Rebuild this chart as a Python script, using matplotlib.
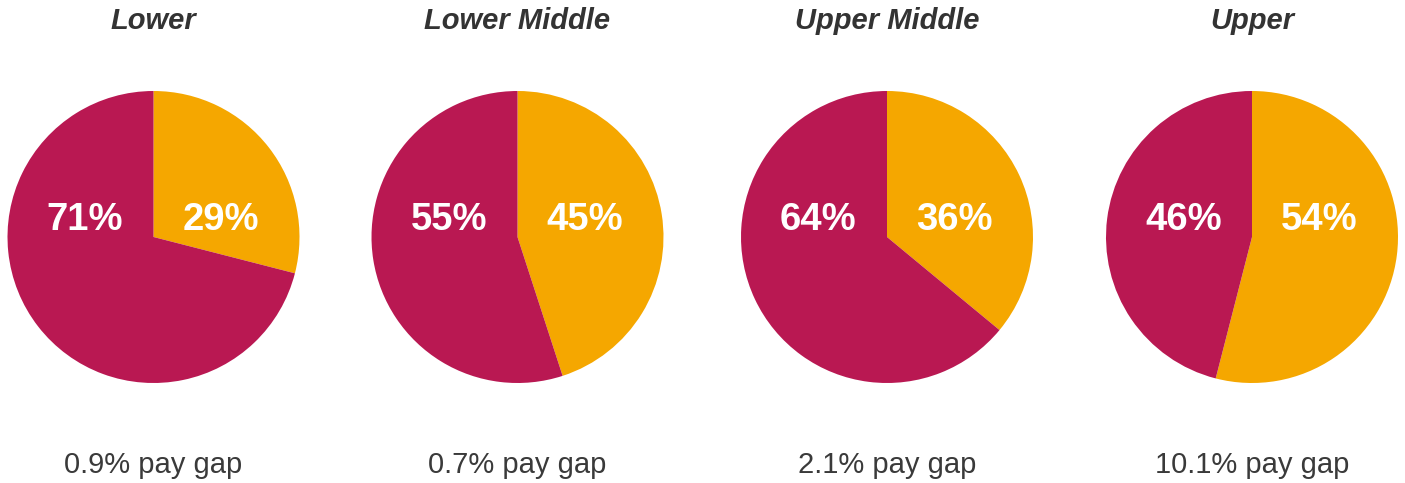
import matplotlib.pyplot as plt

plt.rcParams['font.family'] = ['Liberation Sans', 'DejaVu Sans']

groups = ['Lower', 'Lower Middle', 'Upper Middle', 'Upper']
male = [71, 55, 64, 46]      # red share
female = [29, 45, 36, 54]    # orange share
pay_gap = ['0.9% pay gap', '0.7% pay gap', '2.1% pay gap', '10.1% pay gap']

RED = '#B91852'
ORANGE = '#F5A700'
TEXT = '#333333'

W, H = 1405, 483
fig = plt.figure(figsize=(W / 100, H / 100), dpi=100)

centers_x = [153.5, 517.5, 887, 1252]
cy = H - 237
r = 146

for i, name in enumerate(groups):
    cx = centers_x[i]
    ax = fig.add_axes([(cx - r) / W, (cy - r) / H, 2 * r / W, 2 * r / H])
    ax.pie([female[i], male[i]], colors=[ORANGE, RED], startangle=90,
           counterclock=False, radius=1, wedgeprops=dict(linewidth=0))
    ax.set_xlim(-1, 1)
    ax.set_ylim(-1, 1)
    ax.axis('off')
    ax.text(-0.47, 0.115, f'{male[i]}%', ha='center', va='center',
            color='white', fontsize=27.5, fontweight='bold')
    ax.text(0.46, 0.115, f'{female[i]}%', ha='center', va='center',
            color='white', fontsize=27.5, fontweight='bold')

    fig.text(cx / W, 1 - 21 / H, name, ha='center', va='center',
             fontsize=21, fontweight='bold', fontstyle='italic', color=TEXT)
    fig.text(cx / W, 1 - 465 / H, pay_gap[i], ha='center', va='center',
             fontsize=21, color='#3a3a3a')

fig.savefig('out.png', dpi=100, facecolor='white')
